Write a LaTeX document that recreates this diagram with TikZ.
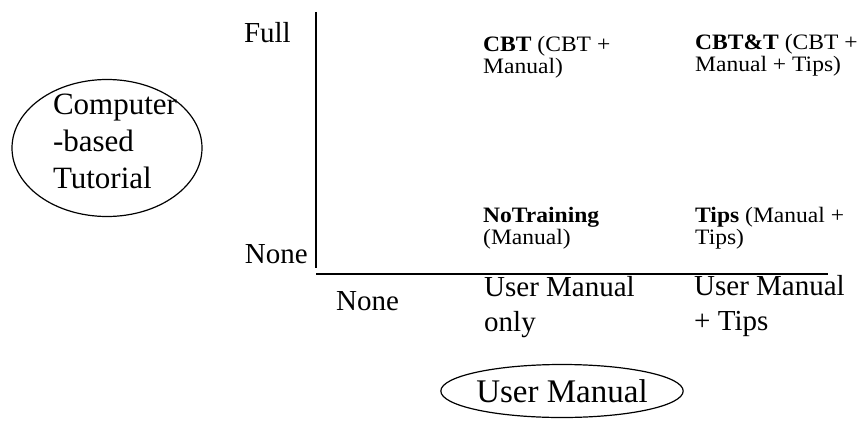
\documentclass[tikz,border=0pt]{standalone}
\usepackage{fontspec}
\setmainfont{Liberation Serif}
\newfontfamily\cellfont[FakeStretch=1.07]{Liberation Serif}
\usetikzlibrary{shapes.geometric, positioning}

\begin{document}
\begin{tikzpicture}[
      x=1pt, y=-1pt,
      axislabel/.style={font=\fontsize{29}{35}\selectfont,
                        inner sep=0pt, align=left},
      cell/.style={font=\cellfont\fontsize{22}{22}\selectfont,
                   inner sep=0pt, align=left, anchor=base west},
      factor/.style={ellipse, draw, line width=1.2pt, inner sep=0pt},
      factorlabel/.style={inner sep=0pt, font=\fontsize{31}{37}\selectfont}
    ]
    \useasboundingbox (0,0) rectangle (858,420);
    % axes
    \coordinate (ytop) at (316,12);
    \coordinate (ybot) at (316,268);
    \coordinate (xleft) at (316,274);
    \coordinate (xright) at (828,274);
    \draw[line width=1.3pt] (ytop) -- (ybot);
    \draw[line width=1.3pt] (xleft) -- (xright);
    % axis levels
    \node[axislabel, anchor=base east] (full) at (291,42) {Full};
    \node[axislabel, anchor=base east] (noney) at (308,263) {None};
    \node[axislabel, anchor=base west] (nonex) at (336,310) {None};
    \node[axislabel, anchor=base west] (manualonly) at (484,331)
      {User Manual\\only};
    \node[axislabel, anchor=base west] (manualtips) at (694,330)
      {User Manual\\+ Tips};
    % conditions (anchored at last line)
    \node[cell] (cbt) at (483,74) {\textbf{CBT} (CBT +\\Manual)};
    \node[cell] (cbtt) at (695,71) {\textbf{CBT\&T} (CBT +\\Manual + Tips)};
    \node[cell] (notraining) at (483,244) {\textbf{NoTraining}\\(Manual)};
    \node[cell] (tips) at (695,244) {\textbf{Tips} (Manual +\\Tips)};
    % factors
    \node[factor, minimum width=190, minimum height=137]
      (tutorial) at (107,148) {};
    \node[factorlabel, align=left] (tutoriallabel) at (115,141)
      {Computer\\-based\\Tutorial};
    \node[factor, minimum width=233, minimum height=53,
          font=\fontsize{33}{37}\selectfont]
      (manual) at (562,391) {User Manual};
  \end{tikzpicture}
\end{document}
